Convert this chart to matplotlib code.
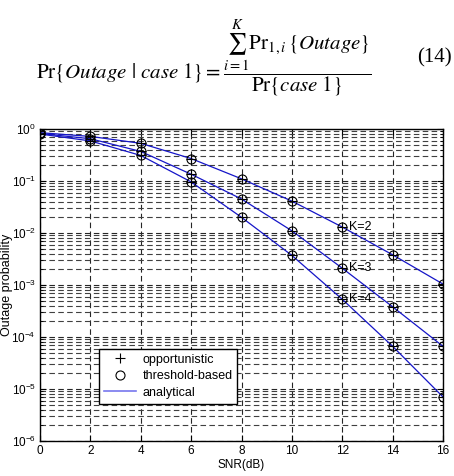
import numpy as np
import matplotlib
matplotlib.use("Agg")
import matplotlib.pyplot as plt
from matplotlib.ticker import LogLocator, NullFormatter

plt.rcParams['font.family'] = ['Liberation Sans', 'DejaVu Sans']
plt.rcParams['mathtext.fontset'] = 'custom'
plt.rcParams['mathtext.rm'] = 'Liberation Sans'
plt.rcParams['mathtext.it'] = 'Liberation Sans:italic'

# data
snr = [0, 2, 4, 6, 8, 10, 12, 14, 16]
k2 = [0.85, 0.72, 0.53, 0.27, 0.11, 0.041, 0.013, 0.0038, 0.00104]
k3 = [0.82, 0.65, 0.37, 0.135, 0.045, 0.011, 0.0021, 0.00038, 6.6e-5]
k4 = [0.80, 0.59, 0.31, 0.096, 0.020, 0.0037, 0.00053, 6.6e-5, 7e-6]
curve_labels = ['K=2', 'K=3', 'K=4']

fig = plt.figure(figsize=(4.54, 4.76), dpi=100)
ax = fig.add_axes([0.088, 0.0735, 0.888, 0.6555])

for y in (k2, k3, k4):
    ax.plot(snr, y, color='#1515c8', lw=0.9)
    ax.plot(snr, y, 'k+', ms=7, mew=0.8)
    ax.plot(snr, y, 'ko', ms=6.5, mfc='none', mew=0.8)

# K labels next to the 12 dB points
for y, lab in zip((k2, k3, k4), curve_labels):
    ax.annotate(lab, (snr[6], y[6]), xytext=(5, 0), textcoords='offset points',
                fontsize=9, va='center', ha='left')

ax.set_yscale('log')
ax.set_xlim(0, 16)
ax.set_ylim(1e-6, 1)
ax.set_xticks(np.arange(0, 17, 2))
ax.yaxis.set_major_locator(LogLocator(base=10, numticks=10))
ax.yaxis.set_minor_locator(LogLocator(base=10, subs=np.arange(2, 10), numticks=20))
ax.yaxis.set_minor_formatter(NullFormatter())
ax.tick_params(which='both', direction='in', top=True, right=True, labelsize=8.5, pad=3)
ax.tick_params(which='major', length=4)
ax.tick_params(which='minor', length=2)

ax.grid(True, which='major', color='0.15', ls=(0, (5, 3)), lw=0.8)
ax.grid(True, which='minor', axis='y', color='0.25', ls=(0, (5, 3)), lw=0.8)
for s in ax.spines.values():
    s.set_linewidth(1.0)

ax.set_xlabel('SNR(dB)', fontsize=8.5, labelpad=1)
ax.set_ylabel('Outage probability', fontsize=9)
ax.yaxis.set_label_coords(-0.068, 0.5)

# legend proxies
h1, = ax.plot([], [], 'k+', ms=7, mew=0.8, ls='none')
h2, = ax.plot([], [], 'ko', ms=6.5, mfc='none', mew=0.8, ls='none')
h3, = ax.plot([], [], color='#7777ee', lw=1.2)
leg = ax.legend([h1, h2, h3], ['opportunistic', 'threshold-based', 'analytical'],
                loc='lower left', bbox_to_anchor=(0.13, 0.1), fontsize=9,
                fancybox=False, framealpha=1, edgecolor='k', borderpad=0.4,
                handlelength=2.6, handletextpad=0.5, labelspacing=0.35)
leg.get_frame().set_linewidth(1.0)

# equation above the plot
eq = (r'$\mathrm{Pr}\{Outage\ |\ case\ 1\} = '
      r'\dfrac{\sum_{i=1}^{K}\mathrm{Pr}_{1,i}\,\{Outage\}}{\mathrm{Pr}\{case\ 1\}}$')
fig.text(0.08, 0.878, eq, fontsize=15, math_fontfamily='stix', va='center', ha='left')
fig.text(0.995, 0.878, '(14)', fontsize=15, family='Liberation Serif', va='center', ha='right')

fig.savefig('out.png', dpi=100)
